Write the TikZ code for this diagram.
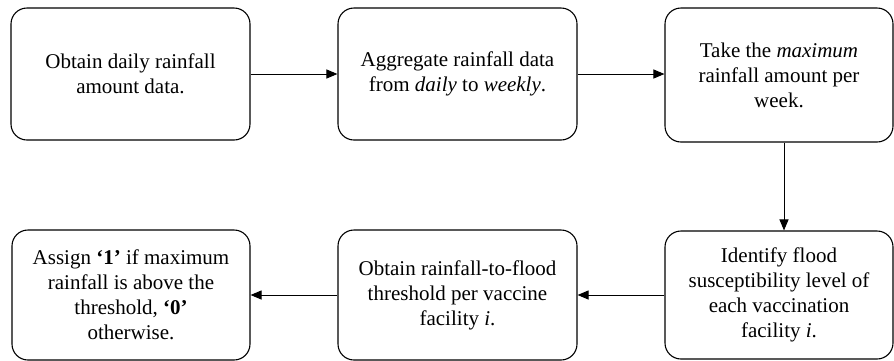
\documentclass[tikz,border=0pt]{standalone}
\usepackage{fontspec}
\setmainfont{Liberation Serif}
\usetikzlibrary{arrows.meta}
\begin{document}
\begin{tikzpicture}[x=1pt,y=-1pt,
  stepbox/.style={draw=black,line width=1.1pt,rounded corners=16pt,align=center,
    font=\fontsize{21}{25}\selectfont,inner sep=0pt,fill=white},
  flow/.style={line width=1pt,-{Triangle[length=11pt,width=9pt]}}]
\useasboundingbox[fill=white] (0,0) rectangle (894,360);
\node[stepbox,minimum width=239pt,minimum height=132pt] (b1) at (130.5,74) {Obtain daily rainfall\\amount data.};
\node[stepbox,minimum width=239pt,minimum height=132pt] (b2) at (457.5,74) {Aggregate rainfall data\\from \textit{daily} to \textit{weekly}.};
\node[stepbox,minimum width=228pt,minimum height=134pt] (b3) at (779,75) {Take the \textit{maximum}\\rainfall amount per\\week.};
\node[stepbox,minimum width=228pt,minimum height=128pt] (b6) at (779,295) {Identify flood\\susceptibility level of\\each vaccination\\facility \textit{i}.};
\node[stepbox,minimum width=239pt,minimum height=130pt] (b5) at (457.5,295) {Obtain rainfall-to-flood\\threshold per vaccine\\facility \textit{i}.};
\node[stepbox,minimum width=238pt,minimum height=130pt] (b4) at (131,295) {Assign \textbf{‘1’} if maximum\\rainfall is above the\\threshold, \textbf{‘0’}\\otherwise.};
\draw[flow] (b1.east) -- (b2.west);
\draw[flow] (b2.east) -- (b2.east -| b3.west);
\draw[flow] ([xshift=5pt]b3.south) -- ([xshift=5pt]b6.north);
\draw[flow] (b6.west) -- (b5.east);
\draw[flow] (b5.west) -- (b4.east);
\end{tikzpicture}
\end{document}
